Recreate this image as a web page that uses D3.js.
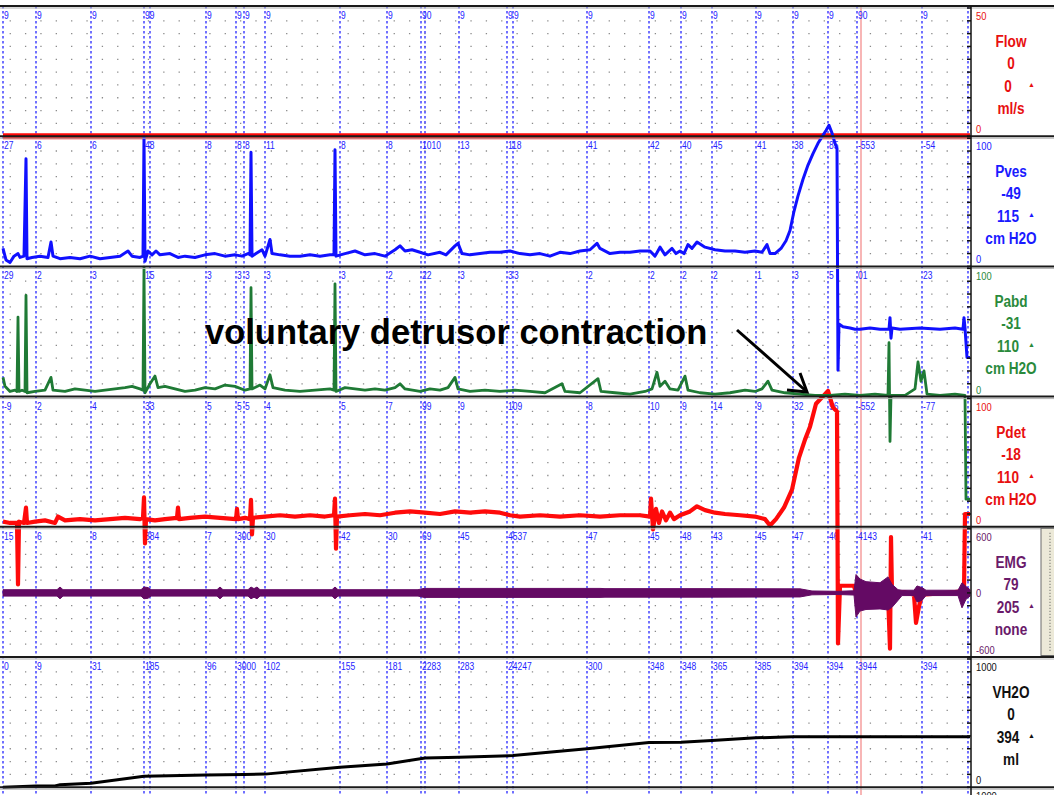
<!DOCTYPE html>
<html>
<head>
<meta charset="utf-8">
<script src="https://cdn.jsdelivr.net/npm/d3@7"></script>
<style>
  body { margin: 0; background: #fff; }
  svg { display: block; }
</style>
</head>
<body>
<div id="canvas"></div>
<script>
"use strict"

let svgWidth = 1054;
let svgHeight = 795;

/* Channel info */
let channelNames = ["Flow", "Pves", "Pabd", "Pdet", "EMG", "VH2O"];
let channelUnits = ["ml/s", "cm H2O", "cm H2O", "cm H2O", "none", "ml"];
let readNow  = ["0", "-49", "-31", "-18", "79", "0"];
let readPeak = ["0", "115", "110", "110", "205", "394"];
let scaleMin = [0, 0, 0, 0, -600, 0];
let scaleMax = [50, 100, 100, 100, 600, 1000];
let channelColors = ["#ff0a0a", "#1010ff", "#1f7a35", "#ff0a0a", "#640a64", "#000000"];
let labelColors   = ["#e81010", "#1a1aff", "#2a8a3c", "#e81010", "#6a1a6a", "#111111"];

/* Event markers (time in s) and the values written at each marker */
let eventTimes = [6, 72, 182, 288, 300, 412, 472, 488, 530, 680, 774, 842, 850, 918, 1014, 1026,
                  1174, 1298, 1362, 1424, 1512, 1586, 1656, 1714, 1844, 1936];
let cursorTime = 1722;

let flowLabels = ["9","9","9","99","","9","9","9","9","9","9","90","","9","9","9","9","9","9","9","9","9","9","90","9",""];
let pvesLabels = ["27","6","6","48","","8","8","8","11","8","8","1010","","13","118","","41","42","40","45","41","38","85","-553","-54",""];
let pabdLabels = ["29","2","3","15","","3","3","3","3","3","2","22","","3","3","3","2","2","2","2","1","3","5","01","23",""];
let pdetLabels = ["-9","2","4","33","","5","5","5","4","5","7","99","","9","109","","8","10","9","14","9","32","96","-552","-77",""];
let emgLabels  = ["15","6","8","384","","7","300","","30","42","30","69","","45","4537","","47","45","48","43","45","47","46","4143","41",""];
let volLabels  = ["0","9","31","185","","96","3000","","102","155","181","2283","","283","24247","","300","348","348","365","385","394","394","3944","394",""];

/* Traces: [time s, value] */
let flow = [[6, 0], [1940, 0]];

let pves = [[6,14],[12,5],[20,3],[28,8],[36,10],[40,7],[48,8],[52,84],[54,6],[64,7],[80,8],[96,7],[102,19],[106,8],
  [120,6],[140,7],[160,6],[180,8],[200,6],[220,7],[240,8],[256,12],[264,8],[280,7],[286,8],[288,101],[290,4],[296,12],
  [304,9],[312,12],[320,9],[340,10],[356,7],[370,8],[390,7],[410,9],[430,10],[450,8],[470,9],[484,8],[496,10],[500,9],
  [502,89],[504,8],[512,10],[524,13],[530,8],[540,21],[544,10],[560,9],[580,8],[600,8],[620,9],[640,8],[660,9],[668,9],
  [670,91],[672,8],[690,10],[710,12],[730,9],[750,10],[770,8],[790,13],[800,16],[810,12],[824,13],[840,11],[856,9],
  [880,11],[892,9],[910,16],[916,18],[924,10],[940,9],[960,10],[980,11],[1000,11],[1020,12],[1040,10],[1060,9],[1080,10],
  [1100,8],[1120,11],[1140,10],[1160,12],[1180,13],[1194,18],[1200,14],[1220,10],[1240,11],[1260,11],[1280,12],[1300,12],
  [1310,8],[1320,15],[1330,9],[1344,14],[1352,10],[1360,12],[1368,10],[1376,17],[1384,14],[1394,19],[1410,15],[1430,13],
  [1450,12],[1470,12],[1490,11],[1510,12],[1524,11],[1534,17],[1540,10],[1550,10],[1562,14],[1572,20],[1580,28],[1588,43],
  [1596,55],[1606,68],[1616,79],[1626,88],[1636,96],[1644,101],[1652,106],[1658,110],[1664,104],[1670,96],[1674,92],
  [1676,-81],[1678,-45],[1686,-47],[1700,-48],[1710,-49],[1720,-49],[1740,-48],[1760,-49],[1778,-49],[1780,-40],[1782,-56],
  [1784,-48],[1800,-49],[1840,-48],[1880,-49],[1910,-48],[1926,-49],[1928,-40],[1930,-48],[1934,-71],[1940,-71]];

let pabd = [[6,15],[10,8],[20,4],[30,5],[34,4],[36,62],[38,4],[44,5],[50,4],[52,79],[54,3],[70,4],[90,5],[102,15],[106,5],
  [130,4],[150,6],[170,5],[190,4],[210,5],[230,6],[250,7],[264,8],[280,6],[286,5],[288,101],[290,3],[300,10],[310,16],
  [316,7],[330,8],[350,6],[370,4],[390,5],[410,7],[430,6],[450,9],[470,8],[490,5],[500,6],[502,85],[504,6],[520,9],[530,6],
  [540,17],[546,7],[570,5],[600,4],[630,5],[660,6],[668,5],[670,88],[672,4],[690,7],[710,6],[730,5],[750,6],[770,5],[790,7],
  [800,10],[810,6],[840,4],[860,6],[880,5],[896,7],[910,15],[916,6],[940,4],[970,5],[1000,4],[1030,5],[1060,4],[1090,3],
  [1124,10],[1130,4],[1160,3],[1196,14],[1202,4],[1230,3],[1260,2],[1290,4],[1304,6],[1314,19],[1320,8],[1330,12],[1340,6],
  [1356,5],[1370,16],[1376,5],[1400,3],[1430,2],[1460,3],[1490,5],[1510,4],[1524,6],[1536,12],[1544,5],[1570,3],[1600,2],
  [1630,1],[1660,1],[1690,2],[1720,1],[1750,2],[1776,1],[1778,42],[1780,-35],[1782,1],[1810,1],[1830,6],[1836,27],[1842,12],
  [1848,20],[1854,2],[1880,1],[1910,2],[1930,1],[1932,-80],[1940,-80]];

let pdet = [[6,4],[20,3],[34,3],[36,-45],[38,4],[48,3],[52,15],[54,3],[70,4],[90,5],[110,3],[116,8],[130,5],[160,6],
  [190,5],[220,6],[250,7],[280,6],[286,7],[288,23],[290,-13],[292,6],[310,5],[330,6],[354,7],[356,15],[358,6],[380,7],
  [410,8],[440,7],[472,6],[474,14],[476,6],[490,7],[500,6],[502,21],[504,-6],[506,7],[530,8],[560,9],[590,8],[620,9],
  [650,8],[668,9],[670,22],[672,-17],[674,8],[700,9],[730,10],[760,9],[790,11],[820,12],[850,11],[880,10],[910,12],
  [940,11],[970,12],[1000,11],[1020,9],[1040,8],[1080,9],[1120,8],[1160,9],[1200,8],[1240,9],[1280,9],[1300,8],[1302,22],
  [1306,-2],[1312,14],[1318,3],[1324,12],[1332,5],[1340,11],[1348,6],[1360,9],[1380,12],[1394,16],[1410,13],[1430,11],
  [1450,10],[1480,9],[1510,8],[1530,6],[1540,1],[1552,6],[1568,15],[1584,29],[1598,54],[1610,68],[1620,78],[1632,96],
  [1644,101],[1656,106],[1666,93],[1674,90],[1676,-91],[1680,-46],[1708,-46],[1712,-52],[1740,-51],[1776,-52],[1780,-95],
  [1782,-8],[1784,-52],[1810,-51],[1828,-53],[1832,-75],[1838,-62],[1844,-53],[1880,-52],[1910,-51],[1928,-50],[1930,10],
  [1940,10]];

/* EMG activity envelope */
let emgTime = [6,114,120,126,282,288,296,302,434,440,446,496,502,508,514,520,664,670,676,836,848,1200,1210,1400,1600,1624,
  1676,1708,1712,1720,1732,1760,1776,1784,1796,1804,1828,1834,1844,1852,1916,1924,1932,1940];
let emgHigh = [30,30,55,30,30,55,50,30,30,55,30,30,55,40,55,30,30,55,30,30,42,42,40,40,38,18,
  15,20,172,130,105,95,150,80,30,25,25,65,50,25,25,95,60,30];
let emgLow = [-30,-30,-55,-30,-30,-55,-50,-30,-30,-55,-30,-30,-55,-40,-55,-30,-30,-55,-30,-30,-42,-42,-40,-40,-38,-18,
  -15,-20,-226,-170,-155,-150,-160,-135,-70,-25,-25,-85,-70,-25,-25,-140,-60,-30];

let volume = [[6,0],[72,9],[110,10],[120,20],[182,31],[288,85],[412,96],[488,100],[530,102],[680,155],[774,181],
  [850,228],[918,233],[1026,247],[1174,300],[1298,348],[1362,350],[1424,365],[1512,385],[1586,394],[1940,394]];

/* Layout */
let chartTop = 6;
let panelH = 130.2;
let axisX = 971;
let labelX = 1011;
let narrow = "'Liberation Sans Narrow', 'Arial Narrow', 'Liberation Sans', Arial, sans-serif";

function panelTop(i) { return chartTop + panelH * i; }

let svg = d3.select("#canvas")
    .append("svg")
    .attr("width", svgWidth)
    .attr("height", svgHeight);

svg.append("rect")
    .attr("width", svgWidth)
    .attr("height", svgHeight)
    .attr("fill", "#fff");

/* Scales */
let xScale = d3.scaleLinear()
    .domain([0, 1940])
    .range([0, 970]);

let yScales = channelNames.map((n, i) => d3.scaleLinear()
    .domain([scaleMin[i], scaleMax[i]])
    .range([panelTop(i) + panelH, panelTop(i) + 2]));

/* Dotted grid */
channelNames.forEach(function(n, i) {
    let ys = d3.range(1, 10).map(j => yScales[i](scaleMin[i] + j * (scaleMax[i] - scaleMin[i]) / 10));
    svg.append("g").selectAll("line")
       .data(ys)
       .join("line")
       .attr("x1", 9.6)
       .attr("x2", 966)
       .attr("y1", d => d)
       .attr("y2", d => d)
       .attr("stroke", "#8a8a8a")
       .attr("stroke-width", 1.3)
       .attr("stroke-dasharray", "1.3,14.06");
});

/* Event marker lines */
svg.append("g").selectAll("line")
   .data(eventTimes)
   .join("line")
   .attr("x1", d => xScale(d))
   .attr("x2", d => xScale(d))
   .attr("y1", chartTop)
   .attr("y2", svgHeight)
   .attr("stroke", "#3535ff")
   .attr("stroke-width", 1.4)
   .attr("stroke-dasharray", "2.5,2.5");

/* Cursor line */
svg.append("line")
   .attr("x1", xScale(cursorTime))
   .attr("x2", xScale(cursorTime))
   .attr("y1", chartTop)
   .attr("y2", svgHeight)
   .attr("stroke", "#f6a4a4")
   .attr("stroke-width", 1.6);

/* Marker values at top of each panel */
let markerLabels = [flowLabels, pvesLabels, pabdLabels, pdetLabels, emgLabels, volLabels];
markerLabels.forEach(function(labels, i) {
    svg.append("g").selectAll("text")
       .data(labels)
       .join("text")
       .attr("transform", (d, k) => "translate(" + (xScale(eventTimes[k]) + 1) + "," + (panelTop(i) + 13) + ") scale(0.85,1.1)")
       .attr("font-family", narrow)
       .attr("font-size", 10)
       .attr("fill", "#2424ff")
       .text(d => d);
});

/* Traces */
function lineFor(i) {
    return d3.line()
        .x(d => xScale(d[0]))
        .y(d => yScales[i](d[1]));
}

svg.append("path")
   .datum(volume)
   .attr("d", lineFor(5))
   .attr("fill", "none")
   .attr("stroke", channelColors[5])
   .attr("stroke-width", 3);

svg.append("path")
   .datum(flow)
   .attr("d", lineFor(0))
   .attr("fill", "none")
   .attr("stroke", channelColors[0])
   .attr("stroke-width", 6);

svg.append("path")
   .datum(pdet)
   .attr("d", lineFor(3))
   .attr("fill", "none")
   .attr("stroke", channelColors[3])
   .attr("stroke-width", 4.2)
   .attr("stroke-linejoin", "round");

let emgArea = d3.area()
    .x((d, k) => xScale(emgTime[k]))
    .y0((d, k) => yScales[4](emgLow[k]))
    .y1((d, k) => yScales[4](emgHigh[k]));

svg.append("path")
   .datum(emgTime)
   .attr("d", emgArea)
   .attr("fill", channelColors[4])
   .attr("stroke", channelColors[4])
   .attr("stroke-width", 1);

svg.append("path")
   .datum(pabd)
   .attr("d", lineFor(2))
   .attr("fill", "none")
   .attr("stroke", channelColors[2])
   .attr("stroke-width", 2.8)
   .attr("stroke-linejoin", "round");

svg.append("path")
   .datum(pves)
   .attr("d", lineFor(1))
   .attr("fill", "none")
   .attr("stroke", channelColors[1])
   .attr("stroke-width", 3)
   .attr("stroke-linejoin", "round");

/* Panel separators */
let bounds = d3.range(0, 7).map(panelTop);
svg.append("g").selectAll("line")
   .data(bounds)
   .join("line")
   .attr("x1", 0)
   .attr("x2", svgWidth)
   .attr("y1", d => d)
   .attr("y2", d => d)
   .attr("stroke", "#1a1a1a")
   .attr("stroke-width", 2);

svg.append("g").selectAll("line")
   .data(bounds)
   .join("line")
   .attr("x1", 0)
   .attr("x2", svgWidth)
   .attr("y1", d => d + 2)
   .attr("y2", d => d + 2)
   .attr("stroke", "#b0b0b0")
   .attr("stroke-width", 1);

/* Right axis with ticks */
svg.append("line")
   .attr("x1", axisX)
   .attr("x2", axisX)
   .attr("y1", chartTop)
   .attr("y2", svgHeight)
   .attr("stroke", "#111")
   .attr("stroke-width", 1.5);

function condensed(sel, x, y, sx) {
    return sel.attr("transform", "translate(" + x + "," + y + ") scale(" + sx + ",1)");
}

channelNames.forEach(function(n, i) {
    let y = yScales[i];
    let ticks = d3.range(0, 11).map(j => scaleMin[i] + j * (scaleMax[i] - scaleMin[i]) / 10);
    svg.append("g").selectAll("line")
       .data(ticks)
       .join("line")
       .attr("x1", axisX - 4)
       .attr("x2", axisX)
       .attr("y1", d => y(d))
       .attr("y2", d => y(d))
       .attr("stroke", "#111")
       .attr("stroke-width", 1.5);

    /* scale limits */
    condensed(svg.append("text"), axisX + 5, panelTop(i) + 14, 0.85)
       .attr("font-family", narrow)
       .attr("font-size", 11)
       .attr("fill", labelColors[i])
       .text(scaleMax[i]);

    condensed(svg.append("text"), axisX + 5, panelTop(i) + panelH - 3, 0.85)
       .attr("font-family", narrow)
       .attr("font-size", 11)
       .attr("fill", labelColors[i])
       .text(scaleMin[i]);

    if (scaleMin[i] < 0) {
        condensed(svg.append("text"), axisX + 5, y(0) + 4, 0.85)
           .attr("font-family", narrow)
           .attr("font-size", 11)
           .attr("fill", labelColors[i])
           .text("0");
    }

    /* channel readout */
    let top = panelTop(i);
    let rows = [[channelNames[i], 41], [readNow[i], 63], [readPeak[i], 86], [channelUnits[i], 108]];
    rows.forEach(function(r, k) {
        condensed(svg.append("text"), k == 2 ? labelX - 3 : labelX, top + r[1], 0.8)
           .attr("text-anchor", "middle")
           .attr("font-family", narrow)
           .attr("font-weight", "bold")
           .attr("font-size", 17)
           .attr("fill", labelColors[i])
           .text(r[0]);
    });
    svg.append("text")
       .attr("x", labelX + 17)
       .attr("y", top + 81)
       .attr("font-family", narrow)
       .attr("font-size", 7)
       .attr("fill", labelColors[i])
       .text("\u25B2");
});

/* next channel scale, cut off at the bottom */
condensed(svg.append("text"), axisX + 5, svgHeight + 5, 0.85)
   .attr("font-family", narrow)
   .attr("font-size", 11)
   .attr("fill", "#111")
   .text("1000");

/* slider box at the right of the EMG row */
svg.append("rect")
   .attr("x", 1041)
   .attr("y", panelTop(4) + 1.5)
   .attr("width", 14)
   .attr("height", panelH - 3)
   .attr("fill", "#ece9d8")
   .attr("stroke", "#6a6a6a")
   .attr("stroke-width", 1);

svg.append("line")
   .attr("x1", 1050)
   .attr("x2", 1050)
   .attr("y1", panelTop(4) + 6)
   .attr("y2", panelTop(5) - 6)
   .attr("stroke", "#555")
   .attr("stroke-dasharray", "1,2");

/* Annotation */
svg.append("text")
   .attr("x", 205)
   .attr("y", 344)
   .attr("font-family", "'Liberation Sans', Arial, sans-serif")
   .attr("font-weight", "bold")
   .attr("font-size", 34.5)
   .attr("fill", "#000")
   .text("voluntary detrusor contraction");

svg.append("line")
   .attr("x1", 737)
   .attr("y1", 330)
   .attr("x2", 806)
   .attr("y2", 391)
   .attr("stroke", "#000")
   .attr("stroke-width", 3);

svg.append("path")
   .attr("d", "M787,390 L807,392 L800,373")
   .attr("fill", "none")
   .attr("stroke", "#000")
   .attr("stroke-width", 3)
   .attr("stroke-linejoin", "miter");
</script>
</body>
</html>
